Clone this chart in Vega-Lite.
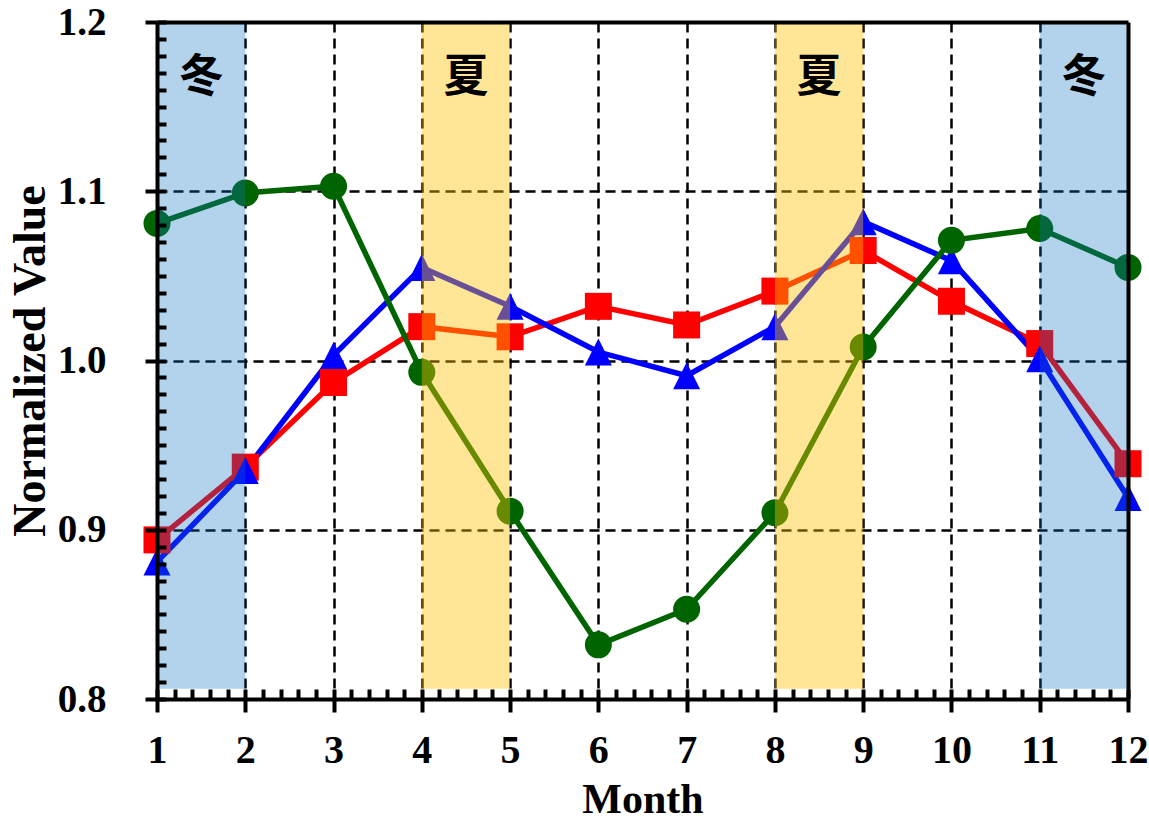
{
  "$schema": "https://vega.github.io/schema/vega-lite/v6.json",
  "width": 971,
  "height": 677,
  "autosize": {"type": "none"},
  "padding": {"left": 157, "top": 22, "right": 21, "bottom": 123},
  "background": "white",
  "config": {"view": {"stroke": null}},
  "datasets": {
    "series": [
      {"series": "Series1", "month": 1, "value": 0.894},
      {"series": "Series1", "month": 2, "value": 0.937},
      {"series": "Series1", "month": 3, "value": 0.987},
      {"series": "Series1", "month": 4, "value": 1.020},
      {"series": "Series1", "month": 5, "value": 1.014},
      {"series": "Series1", "month": 6, "value": 1.032},
      {"series": "Series1", "month": 7, "value": 1.021},
      {"series": "Series1", "month": 8, "value": 1.041},
      {"series": "Series1", "month": 9, "value": 1.065},
      {"series": "Series1", "month": 10, "value": 1.035},
      {"series": "Series1", "month": 11, "value": 1.010},
      {"series": "Series1", "month": 12, "value": 0.939},
      {"series": "Series2", "month": 1, "value": 0.881},
      {"series": "Series2", "month": 2, "value": 0.935},
      {"series": "Series2", "month": 3, "value": 1.003},
      {"series": "Series2", "month": 4, "value": 1.055},
      {"series": "Series2", "month": 5, "value": 1.032},
      {"series": "Series2", "month": 6, "value": 1.005},
      {"series": "Series2", "month": 7, "value": 0.991},
      {"series": "Series2", "month": 8, "value": 1.020},
      {"series": "Series2", "month": 9, "value": 1.082},
      {"series": "Series2", "month": 10, "value": 1.059},
      {"series": "Series2", "month": 11, "value": 1.001},
      {"series": "Series2", "month": 12, "value": 0.919},
      {"series": "Series3", "month": 1, "value": 1.081},
      {"series": "Series3", "month": 2, "value": 1.099},
      {"series": "Series3", "month": 3, "value": 1.103},
      {"series": "Series3", "month": 4, "value": 0.993},
      {"series": "Series3", "month": 5, "value": 0.911},
      {"series": "Series3", "month": 6, "value": 0.832},
      {"series": "Series3", "month": 7, "value": 0.853},
      {"series": "Series3", "month": 8, "value": 0.910},
      {"series": "Series3", "month": 9, "value": 1.008},
      {"series": "Series3", "month": 10, "value": 1.071},
      {"series": "Series3", "month": 11, "value": 1.078},
      {"series": "Series3", "month": 12, "value": 1.055}
    ],
    "bands": [
      {"season": "冬", "start": 1, "end": 2, "lo": 0.806, "hi": 1.2},
      {"season": "夏", "start": 4, "end": 5, "lo": 0.806, "hi": 1.2},
      {"season": "夏", "start": 8, "end": 9, "lo": 0.806, "hi": 1.2},
      {"season": "冬", "start": 11, "end": 12, "lo": 0.806, "hi": 1.2}
    ],
    "labels": [
      {"season": "冬", "mid": 1.5, "pos": 1.167},
      {"season": "夏", "mid": 4.5, "pos": 1.167},
      {"season": "夏", "mid": 8.5, "pos": 1.167},
      {"season": "冬", "mid": 11.5, "pos": 1.167}
    ]
  },
  "resolve": {"axis": {"x": "independent", "y": "independent"}},
  "layer": [
    {
      "data": {"name": "series"},
      "mark": {"type": "line", "strokeWidth": 5.5},
      "encoding": {
        "x": {"field": "month", "type": "quantitative",
          "scale": {"domain": [1, 12], "nice": false, "zero": false},
          "axis": {"orient": "bottom", "values": [2, 3, 4, 5, 6, 7, 8, 9, 10, 11], "grid": true, "gridDash": [10, 6], "gridWidth": 2.5, "gridColor": "black", "gridOpacity": 1, "domain": false, "ticks": false, "labels": false, "title": null, "zindex": 0}},
        "y": {"field": "value", "type": "quantitative",
          "scale": {"domain": [0.8, 1.2], "nice": false, "zero": false},
          "axis": {"orient": "left", "values": [0.9, 1.0, 1.1], "grid": true, "gridDash": [10, 6], "gridWidth": 2.5, "gridColor": "black", "gridOpacity": 1, "domain": false, "ticks": false, "labels": false, "title": null, "zindex": 0}},
        "color": {"field": "series", "type": "nominal",
          "scale": {"domain": ["Series1", "Series2", "Series3"], "range": ["#FF0000", "#0000FF", "#006400"]},
          "legend": null}
      }
    },
    {
      "data": {"name": "series"},
      "mark": {"type": "point", "filled": true, "opacity": 1, "size": 729, "strokeWidth": 0},
      "encoding": {
        "x": {"field": "month", "type": "quantitative",
          "axis": {"orient": "bottom", "values": [1, 1.2, 1.4, 1.6, 1.8, 2, 2.2, 2.4, 2.6, 2.8, 3, 3.2, 3.4, 3.6, 3.8, 4, 4.2, 4.4, 4.6, 4.8, 5, 5.2, 5.4, 5.6, 5.8, 6, 6.2, 6.4, 6.6, 6.8, 7, 7.2, 7.4, 7.6, 7.8, 8, 8.2, 8.4, 8.6, 8.8, 9, 9.2, 9.4, 9.6, 9.8, 10, 10.2, 10.4, 10.6, 10.8, 11, 11.2, 11.4, 11.6, 11.8, 12],
            "tickSize": -10, "tickWidth": 4, "tickColor": "black", "domain": false, "labels": false, "grid": false, "title": null, "zindex": 1}},
        "y": {"field": "value", "type": "quantitative",
          "axis": {"orient": "left", "values": [0.8, 0.81, 0.82, 0.83, 0.84, 0.85, 0.86, 0.87, 0.88, 0.89, 0.9, 0.91, 0.92, 0.93, 0.94, 0.95, 0.96, 0.97, 0.98, 0.99, 1.0, 1.01, 1.02, 1.03, 1.04, 1.05, 1.06, 1.07, 1.08, 1.09, 1.1, 1.11, 1.12, 1.13, 1.14, 1.15, 1.16, 1.17, 1.18, 1.19, 1.2],
            "tickSize": -9, "tickWidth": 4, "tickColor": "black", "domain": false, "labels": false, "grid": false, "title": null, "zindex": 1}},
        "color": {"field": "series", "type": "nominal", "legend": null},
        "shape": {"field": "series", "type": "nominal",
          "scale": {"domain": ["Series1", "Series2", "Series3"], "range": ["square", "M0,-1L1,1L-1,1Z", "circle"]},
          "legend": null}
      }
    },
    {
      "data": {"name": "bands"},
      "mark": {"type": "rect", "strokeWidth": 0},
      "encoding": {
        "x": {"field": "start", "type": "quantitative",
          "axis": {"orient": "bottom", "values": [1, 2, 3, 4, 5, 6, 7, 8, 9, 10, 11, 12], "format": "d",
            "tickSize": 13, "tickWidth": 4, "tickColor": "black",
            "domain": true, "domainWidth": 4, "domainColor": "black", "grid": false,
            "labelFont": "Liberation Serif", "labelFontWeight": "bold", "labelFontSize": 40, "labelColor": "black",
            "labelPadding": 18, "labelFlush": false, "labelOverlap": false,
            "title": "Month", "titleFont": "Liberation Serif", "titleFontWeight": "bold", "titleFontSize": 42, "titleColor": "black", "titlePadding": 9,
            "zindex": 1}},
        "x2": {"field": "end"},
        "y": {"field": "lo", "type": "quantitative",
          "axis": {"orient": "left", "values": [0.8, 0.9, 1.0, 1.1, 1.2], "format": ".1f",
            "tickSize": 12, "tickWidth": 4, "tickColor": "black",
            "domain": true, "domainWidth": 4, "domainColor": "black", "grid": false,
            "labelFont": "Liberation Serif", "labelFontWeight": "bold", "labelFontSize": 39, "labelColor": "black",
            "labelPadding": 39, "labelFlush": false, "labelOverlap": false,
            "title": "Normalized Value", "titleFont": "Liberation Serif", "titleFontWeight": "bold", "titleFontSize": 46, "titleColor": "black", "titlePadding": 3,
            "zindex": 1}},
        "y2": {"field": "hi"},
        "fill": {"field": "season", "type": "nominal",
          "scale": {"domain": ["冬", "夏"], "range": ["#0A72C4", "#FFC300"]}, "legend": null},
        "opacity": {"field": "season", "type": "nominal",
          "scale": {"domain": ["冬", "夏"], "range": [0.31, 0.41]}, "legend": null}
      }
    },
    {
      "data": {"name": "labels"},
      "mark": {"type": "text", "font": "Noto Sans CJK SC", "fontWeight": "bold", "fontSize": 45, "color": "black", "baseline": "middle", "align": "center"},
      "encoding": {
        "x": {"field": "mid", "type": "quantitative",
          "axis": {"orient": "top", "domain": true, "domainWidth": 4, "domainColor": "black", "ticks": false, "labels": false, "grid": false, "title": null, "zindex": 1}},
        "y": {"field": "pos", "type": "quantitative",
          "axis": {"orient": "right", "domain": true, "domainWidth": 4, "domainColor": "black", "ticks": false, "labels": false, "grid": false, "title": null, "zindex": 1}},
        "text": {"field": "season", "type": "nominal"}
      }
    }
  ]
}
